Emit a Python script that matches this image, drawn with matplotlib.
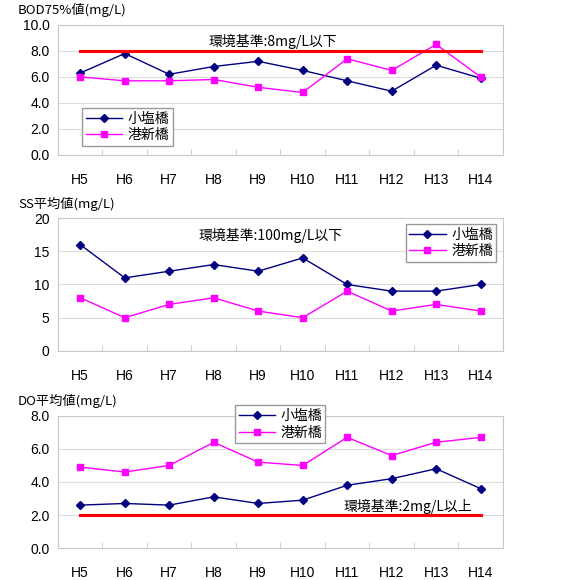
import numpy as np
from matplotlib import pyplot as plt
from matplotlib.ticker import FixedLocator

plt.rcParams['font.family'] = ['Liberation Sans', 'Noto Sans CJK JP', 'DejaVu Sans']

# data
years = ["H5", "H6", "H7", "H8", "H9", "H10", "H11", "H12", "H13", "H14"]
names = ["小塩橋", "港新橋"]

bod_koshio = [6.3, 7.8, 6.2, 6.8, 7.2, 6.5, 5.7, 4.9, 6.9, 5.9]
bod_minato = [6.0, 5.7, 5.7, 5.8, 5.2, 4.8, 7.4, 6.5, 8.5, 6.0]
bod_std = 8.0

ss_koshio = [16, 11, 12, 13, 12, 14, 10, 9, 9, 10]
ss_minato = [8, 5, 7, 8, 6, 5, 9, 6, 7, 6]

do_koshio = [2.6, 2.7, 2.6, 3.1, 2.7, 2.9, 3.8, 4.2, 4.8, 3.6]
do_minato = [4.9, 4.6, 5.0, 6.4, 5.2, 5.0, 6.7, 5.6, 6.4, 6.7]
do_std = 2.0

x = np.arange(len(years))
jp = ['Noto Sans CJK JP', 'DejaVu Sans']

fig = plt.figure(figsize=(5.8, 5.8), dpi=100)


def panel(rect, a, b, ymax, step, fmt, title):
    ax = fig.add_axes(rect)
    ax.plot(x, a, color="#000080", marker="D", markersize=4, lw=1, label=names[0])
    ax.plot(x, b, color="#ff00ff", marker="s", markersize=5, lw=1, label=names[1])
    ax.set_xlim(-0.5, len(years) - 0.5)
    ax.set_ylim(0, ymax)
    ax.set_yticks(np.arange(0, ymax + step / 2, step))
    ax.set_yticklabels([fmt % v for v in np.arange(0, ymax + step / 2, step)])
    ax.set_xticks(x)
    ax.set_xticklabels(years)
    ax.xaxis.set_minor_locator(FixedLocator(np.arange(0.5, len(years) - 1, 1)))
    ax.tick_params(axis="x", which="major", length=0, pad=13, labelsize=10)
    ax.tick_params(axis="x", which="minor", direction="in", length=4, color="#c8c8c8")
    ax.tick_params(axis="y", length=0, pad=6, labelsize=10)
    ax.grid(axis="y", color="#dcdcdc", lw=0.8)
    ax.set_axisbelow(True)
    for s in ax.spines.values():
        s.set_color("#c8c8c8")
        s.set_linewidth(0.8)
    fig.text(0.031, rect[1] + rect[3] + 0.025, title, fontsize=9.5, family=jp, va="center")
    return ax


# BOD
ax1 = panel([0.1, 0.733, 0.767, 0.224], bod_koshio, bod_minato, 10, 2, "%.1f", "BOD75%値(mg/L)")
ax1.plot([x[0], x[-1]], [bod_std, bod_std], color="red", lw=2.2)
ax1.text(4.34, 8.7, "環境基準:8mg/L以下", ha="center", va="center", fontsize=10, family=jp)
ax1.legend(loc="lower left", bbox_to_anchor=(0.055, 0.07), prop={'family': jp, 'size': 10},
           fancybox=False, edgecolor="#999999", framealpha=1, handlelength=2.6,
           borderpad=0.25, labelspacing=0.2, handletextpad=0.4, borderaxespad=0)

# SS
ax2 = panel([0.1, 0.395, 0.767, 0.229], ss_koshio, ss_minato, 20, 5, "%d", "SS平均値(mg/L)")
ax2.text(4.27, 17.4, "環境基準:100mg/L以下", ha="center", va="center", fontsize=10, family=jp)
ax2.legend(loc="upper right", bbox_to_anchor=(0.985, 0.955), prop={'family': jp, 'size': 10},
           fancybox=False, edgecolor="#999999", framealpha=1, handlelength=2.6,
           borderpad=0.25, labelspacing=0.2, handletextpad=0.4, borderaxespad=0)

# DO
ax3 = panel([0.1, 0.055, 0.767, 0.228], do_koshio, do_minato, 8, 2, "%.1f", "DO平均値(mg/L)")
ax3.plot([x[0], x[-1]], [do_std, do_std], color="red", lw=2.2)
ax3.text(7.37, 2.5, "環境基準:2mg/L以上", ha="center", va="center", fontsize=10, family=jp)
ax3.legend(loc="upper left", bbox_to_anchor=(0.398, 1.08), prop={'family': jp, 'size': 10},
           fancybox=False, edgecolor="#999999", framealpha=1, handlelength=2.6,
           borderpad=0.25, labelspacing=0.2, handletextpad=0.4, borderaxespad=0)

fig.savefig("out.png", dpi=100)
